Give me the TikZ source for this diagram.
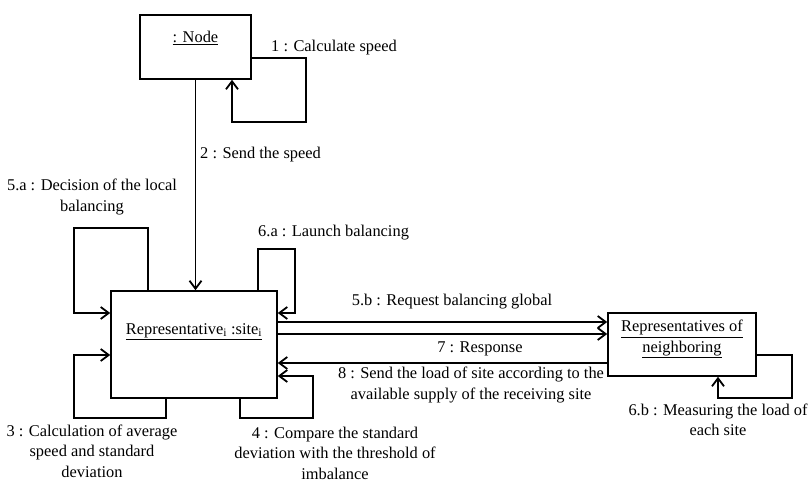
\documentclass[tikz,border=0pt]{standalone}
\usepackage{fontspec}
\setmainfont{Liberation Serif}
\usetikzlibrary{positioning,calc}
\usetikzlibrary{arrows.meta}
\tikzset{
  obj/.style={draw=black,line width=1.6pt,rectangle,inner sep=0pt},
  msg/.style={draw=black,line width=1.8pt,-{Straight Barb[length=8pt,width=12pt]}},
  lab/.style={inner sep=0pt,align=center,font=\fontsize{16.4}{20.5}\selectfont},
}

\begin{document}
\begin{tikzpicture}[x=1pt,y=-1pt]
\useasboundingbox (0,0) rectangle (809,482);
% objects
\node[obj,minimum width=111pt,minimum height=64pt,
  label={[lab,anchor=north,yshift=-17pt]north:\underline{: Node}}] (node) at (195.5,47) {};
\node[obj,minimum width=166pt,minimum height=107pt,
  label={[lab,anchor=north,yshift=-33pt]north:\underline{Representative\textsubscript{i} :site\textsubscript{i}}}] (rep) at (194,344.5) {};
\node[obj,minimum width=148pt,minimum height=63pt,
  label={[lab,anchor=north,yshift=-8pt]north:{\underline{Representatives of}\\\underline{neighboring}}}] (nbr) at (682,344.5) {};
% loop corners
\coordinate (c1a) at (306,58);
\coordinate (c1b) at (232,122);
\coordinate (c5a) at (148,228);
\coordinate (c5b) at (74,313);
\coordinate (c6a) at (258,249);
\coordinate (c6b) at (295,313);
\coordinate (c3a) at (166,418);
\coordinate (c3b) at (74,355);
\coordinate (c4a) at (240,418);
\coordinate (c4b) at (313,376);
\coordinate (c6c) at (792,355);
\coordinate (c6d) at (718,398);
\coordinate (y5b) at (0,322);
\coordinate (y5c) at (0,334);
\coordinate (y7) at (0,363);
% messages
\draw[msg] (node.east |- c1a) -- (c1a) |- (c1b) -- (c1b |- node.south);
\draw[msg] (node.south) -- (node.south |- rep.north);
\draw[msg] (c5a |- rep.north) -- (c5a) -| (c5b) -- (c5b -| rep.west);
\draw[msg] (c6a |- rep.north) -- (c6a) -| (c6b) -- (c6b -| rep.east);
\draw[msg] (c3a |- rep.south) -- (c3a) -| (c3b) -- (c3b -| rep.west);
\draw[msg] (c4a |- rep.south) -- (c4a) -| (c4b) -- (c4b -| rep.east);
\draw[msg] (y5b -| rep.east) -- (y5b -| nbr.west);
\draw[msg] (y5c -| rep.east) -- (y5c -| nbr.west);
\draw[msg] (y7 -| nbr.west) -- (y7 -| rep.east);
\draw[msg] (nbr.east |- c6c) -- (c6c) |- (c6d) -- (c6d |- nbr.south);
% labels
\node[lab,anchor=west] (t1) at (271,48) {1 : Calculate speed};
\node[lab,anchor=west] (t2) at (200,155) {2 : Send the speed};
\node[lab] (t5a) at (92,197) {5.a : Decision of the local\\balancing};
\node[lab,anchor=west] (t6a) at (258,233) {6.a : Launch balancing};
\node[lab] (t5b) at (452,302) {5.b : Request balancing global};
\node[lab] (t7) at (480,349) {7 : Response};
\node[lab] (t8) at (471,385) {8 : Send the load of site according to the\\available supply of the receiving site};
\node[lab] (t6b) at (718,420) {6.b : Measuring the load of\\each site};
\node[lab] (t3) at (92,451) {3 : Calculation of average\\speed and standard\\deviation};
\node[lab] (t4) at (335,453) {4 : Compare the standard\\deviation with the threshold of\\imbalance};
\end{tikzpicture}
\end{document}
